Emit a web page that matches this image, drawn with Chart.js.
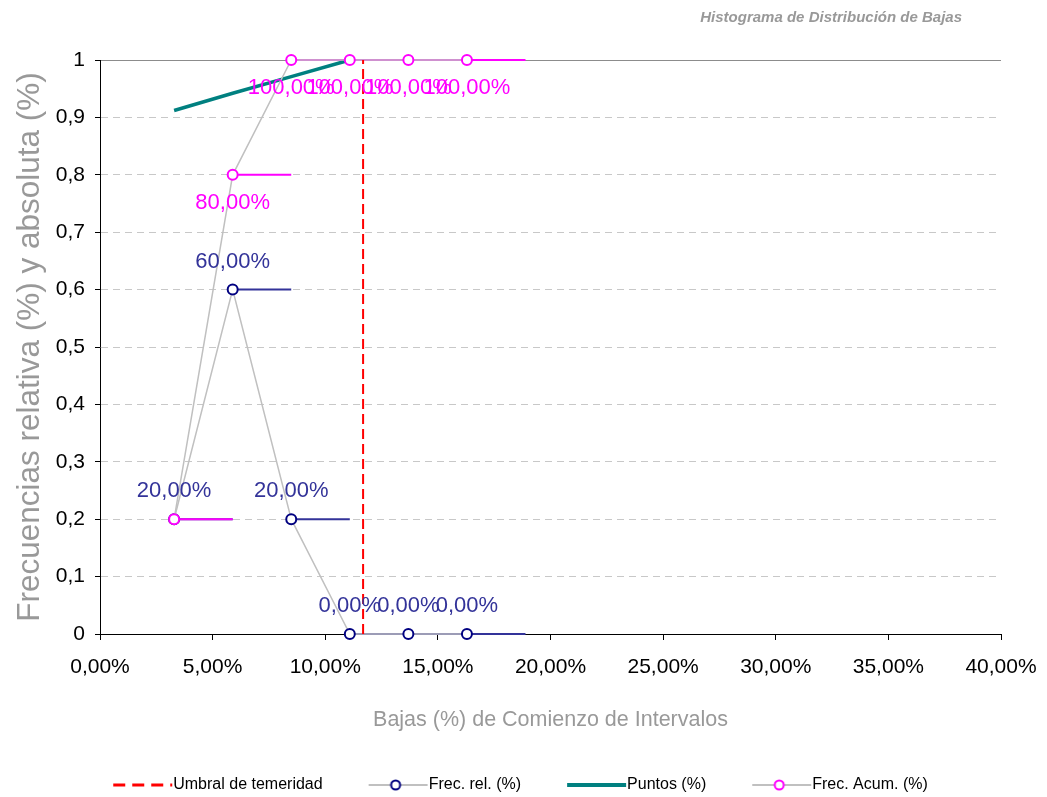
<!DOCTYPE html>
<html>
<head>
<meta charset="utf-8">
<title>Histograma de Distribución de Bajas</title>
<script src="https://cdn.jsdelivr.net/npm/chart.js@4/dist/chart.umd.min.js"></script>
<style>
    html, body { margin: 0; padding: 0; background: #ffffff; }
</style>
</head>
<body>
<canvas id="histChart" width="1047" height="797"></canvas>
<script>
// Datos
var intervalStart = [3.29, 5.89, 8.49, 11.09, 13.69, 16.29];   // Bajas (%) de comienzo
var intervalEnd = [5.89, 8.49, 11.09, 13.69, 16.29, 18.89];    // fin de cada intervalo
var freqRel = [0.2, 0.6, 0.2, 0, 0, 0];
var freqAcum = [0.2, 0.8, 1, 1, 1, 1];
var puntosX = [3.29, 5.89, 8.49, 11.09];
var puntosY = [0.912, 0.942, 0.971, 1];
var umbralX = [11.68, 11.68];
var umbralY = [0, 1];
var xTicks = [0, 5, 10, 15, 20, 25, 30, 35, 40];
var yTicks = [0, 0.1, 0.2, 0.3, 0.4, 0.5, 0.6, 0.7, 0.8, 0.9, 1];

var FONT = '"Liberation Sans", Arial, sans-serif';

function points(xs, ys) {
    return xs.map(function (x, i) {
        return {x: x, y: ys[i]};
    });
}

// tramo horizontal de cada intervalo, cortado con un hueco
function segments(values) {
    var data = [];
    values.forEach(function (v, i) {
        data.push({x: intervalStart[i], y: v});
        data.push({x: intervalEnd[i], y: v});
        data.push({x: intervalEnd[i], y: null});
    });
    return data;
}

function pct(v) {
    return (v * 100).toFixed(2).replace('.', ',') + '%';
}

// simbolos de la leyenda (linea + marcador)
function legendSymbol(kind) {
    var c = document.createElement('canvas');
    c.width = 108;
    c.height = 20;
    var g = c.getContext('2d');
    var x0 = 48, x1 = 107, y = 10;
    g.beginPath();
    if (kind === 'umbral') {
        g.strokeStyle = '#ff0000';
        g.lineWidth = 3;
        g.setLineDash([12, 7]);
    } else if (kind === 'puntos') {
        g.strokeStyle = '#008080';
        g.lineWidth = 4;
    } else {
        g.strokeStyle = '#c0c0c0';
        g.lineWidth = 2;
    }
    g.moveTo(x0, y);
    g.lineTo(x1, y);
    g.stroke();
    g.setLineDash([]);
    if (kind === 'rel' || kind === 'acum') {
        g.beginPath();
        g.arc(x0 + 27, y, 4.5, 0, Math.PI * 2);
        g.fillStyle = '#ffffff';
        g.fill();
        g.lineWidth = 2;
        g.strokeStyle = kind === 'rel' ? '#000080' : '#ff00ff';
        g.stroke();
    }
    return c;
}

var legendEntries = [
    {text: 'Umbral de temeridad', img: legendSymbol('umbral')},
    {text: 'Frec. rel. (%)', img: legendSymbol('rel')},
    {text: 'Puntos (%)', img: legendSymbol('puntos')},
    {text: 'Frec. Acum. (%)', img: legendSymbol('acum')}
];

// etiquetas de valor sobre / bajo los puntos
var pointLabels = {
    id: 'pointLabels',
    afterDatasetsDraw: function (chart) {
        var ctx = chart.ctx;
        ctx.save();
        ctx.font = '22px ' + FONT;
        ctx.textAlign = 'center';
        ctx.textBaseline = 'middle';
        chart.getDatasetMeta(1).data.forEach(function (p, i) {
            ctx.fillStyle = '#333399';
            ctx.fillText(pct(freqRel[i]), p.x, p.y - 28);
        });
        chart.getDatasetMeta(3).data.forEach(function (p, i) {
            if (i === 0) {
                return;
            }
            ctx.fillStyle = '#ff00ff';
            ctx.fillText(pct(freqAcum[i]), p.x, p.y + 28);
        });
        ctx.restore();
    }
};

var cornerTitle = {
    id: 'cornerTitle',
    afterDraw: function (chart) {
        var ctx = chart.ctx;
        ctx.save();
        ctx.font = 'italic bold 15px ' + FONT;
        ctx.fillStyle = '#999999';
        ctx.textAlign = 'right';
        ctx.textBaseline = 'middle';
        ctx.fillText('Histograma de Distribución de Bajas', 962, 18);
        ctx.restore();
    }
};

var histChart = new Chart(document.getElementById('histChart'), {
    type: 'line',
    data: {
        datasets: [
            {
                label: 'Umbral de temeridad',
                data: points(umbralX, umbralY),
                borderColor: '#ff0000',
                borderWidth: 2,
                borderDash: [10, 5],
                pointRadius: 0,
                order: 0
            },
            {
                label: 'Frec. rel. (%)',
                data: points(intervalStart, freqRel),
                borderColor: '#c0c0c0',
                borderWidth: 1.5,
                pointRadius: 5,
                pointBorderWidth: 2,
                pointBorderColor: '#000080',
                pointBackgroundColor: '#ffffff',
                order: 2
            },
            {
                label: 'Puntos (%)',
                data: points(puntosX, puntosY),
                borderColor: '#008080',
                borderWidth: 3.5,
                pointRadius: 0,
                order: 3
            },
            {
                label: 'Frec. Acum. (%)',
                data: points(intervalStart, freqAcum),
                borderColor: '#c0c0c0',
                borderWidth: 1.5,
                pointRadius: 5,
                pointBorderWidth: 2,
                pointBorderColor: '#ff00ff',
                pointBackgroundColor: '#ffffff',
                order: 1
            },
            {
                label: 'rel-tramos',
                data: segments(freqRel),
                borderColor: '#333399',
                borderWidth: 2,
                pointRadius: 0,
                spanGaps: false,
                order: 6
            },
            {
                label: 'acum-tramos',
                data: segments(freqAcum),
                borderColor: '#ff00ff',
                borderWidth: 2,
                pointRadius: 0,
                spanGaps: false,
                order: 5
            }
        ]
    },
    options: {
        responsive: false,
        animation: false,
        layout: {
            padding: {left: 0, right: 46, top: 60, bottom: -6}
        },
        datasets: {
            line: {clip: false}
        },
        elements: {
            line: {tension: 0, fill: false}
        },
        scales: {
            x: {
                type: 'linear',
                min: 0,
                max: 40,
                afterBuildTicks: function (scale) {
                    scale.ticks = xTicks.map(function (v) {
                        return {value: v};
                    });
                },
                afterFit: function (scale) {
                    scale.height = 137;
                    scale.paddingLeft = 0;
                    scale.paddingRight = 0;
                },
                ticks: {
                    color: '#000000',
                    font: {family: FONT, size: 21},
                    padding: 15,
                    maxRotation: 0,
                    callback: function (v) {
                        return Number(v).toFixed(2).replace('.', ',') + '%';
                    }
                },
                grid: {
                    drawOnChartArea: false,
                    tickColor: '#000000',
                    tickLength: 6
                },
                border: {color: '#000000', width: 1},
                title: {
                    display: true,
                    text: 'Bajas (%) de Comienzo de Intervalos',
                    color: '#999999',
                    font: {family: FONT, size: 21.5},
                    padding: {top: 0, bottom: 38}
                }
            },
            y: {
                type: 'linear',
                min: 0,
                max: 1,
                afterBuildTicks: function (scale) {
                    scale.ticks = yTicks.map(function (v) {
                        return {value: v};
                    });
                },
                afterFit: function (scale) {
                    scale.width = 100;
                },
                ticks: {
                    color: '#000000',
                    font: {family: FONT, size: 21},
                    padding: 10,
                    callback: function (v) {
                        return String(Math.round(v * 10) / 10).replace('.', ',');
                    }
                },
                grid: {
                    color: function (c) {
                        return c.tick && c.tick.value === 1 ? '#8c8c8c' : '#c8c8c8';
                    },
                    tickColor: '#000000',
                    tickLength: 5
                },
                border: {
                    color: '#000000',
                    width: 1,
                    dash: function (c) {
                        return c.tick && c.tick.value === 1 ? [] : [7, 5];
                    }
                },
                title: {
                    display: true,
                    text: 'Frecuencias relativa (%) y absoluta (%)',
                    color: '#999999',
                    font: {family: FONT, size: 31.5},
                    padding: {top: 11, bottom: 0}
                }
            }
        },
        plugins: {
            tooltip: {enabled: false},
            legend: {
                position: 'bottom',
                labels: {
                    usePointStyle: true,
                    pointStyleWidth: 92,
                    padding: 6,
                    color: '#000000',
                    font: {family: FONT, size: 16},
                    generateLabels: function () {
                        return legendEntries.map(function (e, i) {
                            return {
                                text: e.text,
                                pointStyle: e.img,
                                fillStyle: 'transparent',
                                strokeStyle: 'transparent',
                                lineWidth: 0,
                                fontColor: '#000000',
                                hidden: false,
                                datasetIndex: i
                            };
                        });
                    }
                }
            }
        }
    },
    plugins: [pointLabels, cornerTitle]
});
</script>
</body>
</html>
